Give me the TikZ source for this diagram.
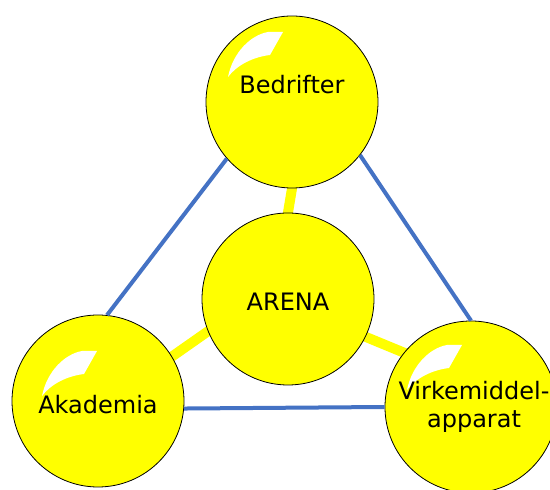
\documentclass[tikz,border=0pt]{standalone}
\usepackage{fontspec}
\setmainfont{DejaVu Sans}
\usetikzlibrary{backgrounds}
\definecolor{ballyellow}{RGB}{255,255,0}
\definecolor{tieblue}{RGB}{68,114,196}

\begin{document}
\begin{tikzpicture}[
x=1pt, y=1pt,
 ball/.style = {circle, draw, line width=0.8pt,% the yellow spheres
                fill=ballyellow, minimum size=172pt, inner sep=0pt},
 word/.style = {font=\fontsize{24}{28}\selectfont, align=center},
  bar/.style = {draw=ballyellow, line width=10pt,
                shorten <=-6pt, shorten >=-6pt},% tucked under the spheres
  tie/.style = {draw=tieblue, line width=4pt},
pics/shine/.style = {code={% white glint, origin = its upper right corner
    \fill[white] (0,0) -- (-15,0)
        .. controls (-32,-3) and (-50,-20) .. (-55,-45)
        .. controls (-46,-33) and (-30,-25) .. (-13,-23) -- cycle;
    }},
                        ]
\useasboundingbox (0,0) rectangle (550,490);
\clip (0,0) rectangle (550,490);
% spheres
\node[ball] (bed)   at (292,388) {};
\node[ball] (arena) at (288,191) {};
\node[ball] (akad)  at ( 98, 89) {};
\node[ball] (virk)  at (471, 83) {};
% glints
\path (bed)  ++(-9,70) pic {shine};
\path (akad) ++(-1,50) pic {shine};
\path (virk) ++(-9,62) pic {shine};
% texts
\node[word] (bedtext)   at ([yshift=17pt]bed.center)   {Bedrifter};
\node[word] (arenatext) at ([yshift=-3pt]arena.center) {ARENA};
\node[word] (akadtext)  at ([yshift=-4pt]akad.center)  {Akademia};
\node[word] (virktext)  at ([xshift=3pt]virk.center)   {Virkemiddel-\\apparat};
% yellow bars to the arena
\begin{scope}[on background layer]
\draw[bar] (bed.-90)  -- (arena.90);
\draw[bar] (arena.202) -- (akad.31);
\draw[bar] (arena.-26) -- (virk.141);
\end{scope}
% blue ties between the actors
\draw[tie] (bed.221) -- (akad.84);
\draw[tie] (bed.-38) -- (virk.90);
\draw[tie] (akad.-5) -- (virk.180);
    \end{tikzpicture}
\end{document}
